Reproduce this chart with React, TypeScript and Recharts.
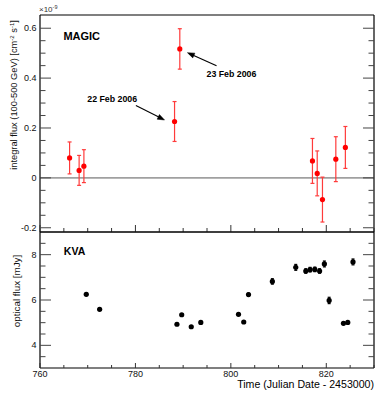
import React from 'react';
import {
  ScatterChart,
  Scatter,
  XAxis,
  YAxis,
  ErrorBar,
  ReferenceLine,
  ReferenceDot,
  Label,
} from 'recharts';

// MAGIC integral flux (x1e-9 cm^-2 s^-1), 100-500 GeV
const magicTime = [766.2, 768.2, 769.2, 788.2, 789.3, 817.1, 818.1, 819.2, 822.0, 824.0];
const magicFlux = [0.08, 0.03, 0.047, 0.226, 0.517, 0.068, 0.018, -0.087, 0.075, 0.122];
const magicErr = [0.064, 0.06, 0.066, 0.08, 0.081, 0.09, 0.09, 0.09, 0.09, 0.084];

// KVA optical flux (mJy)
const kvaTime = [
  769.7, 772.5, 788.7, 789.7, 791.7, 793.7, 801.6, 802.7, 803.7, 808.7, 813.6, 815.7, 816.6,
  817.6, 818.6, 819.6, 820.6, 823.6, 824.5, 825.6,
];
const kvaFlux = [
  6.25, 5.59, 4.93, 5.35, 4.82, 5.01, 5.37, 5.03, 6.24, 6.82, 7.44, 7.28, 7.34, 7.35, 7.28, 7.59,
  5.98, 4.97, 5.01, 7.68,
];
const kvaErr = [
  0.05, 0.05, 0.05, 0.05, 0.05, 0.05, 0.05, 0.05, 0.06, 0.12, 0.13, 0.1, 0.1, 0.1, 0.1, 0.13, 0.14,
  0.05, 0.05, 0.13,
];

const timeTicks = [760, 765, 770, 775, 780, 785, 790, 795, 800, 805, 810, 815, 820, 825, 830];
const timeLabels = [760, 780, 800, 820];
const magicTicks = [
  -0.2, -0.15, -0.1, -0.05, 0, 0.05, 0.1, 0.15, 0.2, 0.25, 0.3, 0.35, 0.4, 0.45, 0.5, 0.55, 0.6,
];
const magicLabels = [-0.2, 0, 0.2, 0.4, 0.6];
const kvaTicks = [3.5, 4, 4.5, 5, 5.5, 6, 6.5, 7, 7.5, 8, 8.5];
const kvaLabels = [4, 6, 8];

const magicData = magicTime.map((t, i) => ({ t, flux: magicFlux[i], err: magicErr[i] }));
const kvaData = kvaTime.map((t, i) => ({ t, flux: kvaFlux[i], err: kvaErr[i] }));

const FONT = '"Liberation Sans", Arial, Helvetica, sans-serif';
const W = 382;
const H = 393;

function xTick(dir: number, labels: boolean, big = 7, small = 4) {
  return (props: any) => {
    const { x, y, payload } = props;
    const major = timeLabels.includes(payload.value);
    return (
      <g>
        <line x1={x} x2={x} y1={y} y2={y + dir * (major ? big : small)} stroke="#333" />
        {labels && major && (
          <text x={x} y={y + 6} dy="0.35em" textAnchor="middle" fontSize={9} fontFamily={FONT} fill="#111">
            {payload.value}
          </text>
        )}
      </g>
    );
  };
}

function yTick(dir: number, majors: number[], labels: boolean) {
  return (props: any) => {
    const { x, y, payload } = props;
    const major = majors.some((m) => Math.abs(m - payload.value) < 1e-6);
    return (
      <g>
        <line x1={x} x2={x + dir * (major ? 11 : 5.5)} y1={y} y2={y} stroke="#444" />
        {labels && major && (
          <text x={x - 3.5} y={y} dy="0.35em" textAnchor="end" fontSize={9} fontFamily={FONT} fill="#111">
            {payload.value}
          </text>
        )}
      </g>
    );
  };
}

const RedDot = (p: any) => <circle cx={p.cx} cy={p.cy} r={2.6} fill="#ff0000" />;
const BlackDot = (p: any) => <circle cx={p.cx} cy={p.cy} r={2.6} fill="#000" />;

const Arrow = (p: any) => {
  const { x1, y1, x2, y2 } = p;
  const a = Math.atan2(y2 - y1, x2 - x1);
  const L = 7;
  const hw = 2.6;
  const bx = x2 - L * Math.cos(a);
  const by = y2 - L * Math.sin(a);
  const nx = -Math.sin(a) * hw;
  const ny = Math.cos(a) * hw;
  return (
    <g>
      <line x1={x1} y1={y1} x2={x2 - 2 * Math.cos(a)} y2={y2 - 2 * Math.sin(a)} stroke="#000" strokeWidth={1.1} />
      <polygon
        points={`${x2},${y2} ${bx + nx},${by + ny} ${bx - nx},${by - ny}`}
        fill="#000"
        stroke="#000"
        strokeWidth={0.5}
      />
    </g>
  );
};

const textShape = (label: string, size: number) => (p: any) => (
  <text x={p.cx} y={p.cy} dy="0.35em" fontSize={size} fontWeight="bold" fontFamily={FONT} fill="#000">
    {label}
  </text>
);

const UpperYTitle = (props: any) => {
  const vb = props.viewBox || { x: 39, y: 15, width: 1 };
  const left = vb.x + (vb.width || 0);
  const cx = left - 26;
  const cy = vb.y + 80;
  return (
    <g>
      <text
        x={cx}
        y={cy}
        dy="0.35em"
        textAnchor="middle"
        fontSize={9.3}
        fontFamily={FONT}
        fill="#111"
        transform={`rotate(-90, ${cx}, ${cy})`}
      >
        integral flux (100-500 GeV) [cm
        <tspan dy={-3.5} fontSize={6}>-2</tspan>
        <tspan dy={3.5}> s</tspan>
        <tspan dy={-3.5} fontSize={6}>-1</tspan>
        <tspan dy={3.5}>]</tspan>
      </text>
      <text x={left - 1} y={vb.y - 3} fontSize={8} fontFamily={FONT} fill="#333">
        ×10
        <tspan dy={-3} fontSize={5.5}>-9</tspan>
      </text>
    </g>
  );
};

const LowerYTitle = (props: any) => {
  const vb = props.viewBox || { x: 39, y: 232, width: 1 };
  const left = vb.x + (vb.width || 0);
  const cx = left - 23;
  const cy = vb.y + 59;
  return (
    <text
      x={cx}
      y={cy}
      dy="0.35em"
      textAnchor="middle"
      fontSize={9.8}
      fontFamily={FONT}
      fill="#111"
      transform={`rotate(-90, ${cx}, ${cy})`}
    >
      optical flux [mJy]
    </text>
  );
};

const XTitle = (props: any) => {
  const vb = props.viewBox || { x: 40, y: 368, width: 334 };
  return (
    <text x={vb.x + vb.width} y={vb.y + 20} textAnchor="end" fontSize={10.6} fontFamily={FONT} fill="#000">
      Time (Julian Date - 2453000)
    </text>
  );
};

const axisLine = { stroke: '#000', strokeWidth: 1.2 };

const commonX = {
  type: 'number' as const,
  domain: [760, 830],
  ticks: timeTicks,
  interval: 0 as const,
  height: 1,
  tickSize: 0,
  tickMargin: 0,
  tickLine: false,
  axisLine,
  allowDataOverflow: true,
};

const commonY = {
  type: 'number' as const,
  interval: 0 as const,
  width: 1,
  tickSize: 0,
  tickMargin: 0,
  tickLine: false,
  axisLine,
  allowDataOverflow: true,
};

export default function App() {
  return (
    <div style={{ position: 'absolute', left: 0, top: 0, width: W, height: H, background: '#fff' }}>
      <div style={{ position: 'absolute', left: 0, top: 0 }}>
        <ScatterChart width={W} height={H} margin={{ top: 14, right: 7, bottom: 160, left: 39 }}>
          <XAxis xAxisId={0} dataKey="t" {...commonX} tick={xTick(-1, false)} />
          <XAxis xAxisId="top" orientation="top" {...commonX} tick={xTick(1, false)} />
          <YAxis
            yAxisId={0}
            dataKey="flux"
            {...commonY}
            domain={[-0.217, 0.653]}
            ticks={magicTicks}
            tick={yTick(1, magicLabels, true)}
          >
            <Label content={UpperYTitle} />
          </YAxis>
          <YAxis
            yAxisId="right"
            orientation="right"
            {...commonY}
            domain={[-0.217, 0.653]}
            ticks={magicTicks}
            tick={yTick(-1, magicLabels, false)}
          />
          <ReferenceLine y={0} stroke="#a0a0a0" strokeWidth={1.6} />
          <Scatter data={magicData} shape={RedDot} isAnimationActive={false}>
            <ErrorBar dataKey="err" direction="y" width={2} stroke="#ff3b3b" strokeWidth={1.2} />
          </Scatter>
          <ReferenceDot x={764.9} y={0.569} r={0} ifOverflow="visible" shape={textShape('MAGIC', 11)} />
          <ReferenceDot x={769.9} y={0.315} r={0} ifOverflow="visible" shape={textShape('22 Feb 2006', 8.8)} />
          <ReferenceDot x={794.9} y={0.415} r={0} ifOverflow="visible" shape={textShape('23 Feb 2006', 8.8)} />
          <ReferenceLine
            segment={[
              { x: 780.1, y: 0.29 },
              { x: 786.1, y: 0.232 },
            ]}
            ifOverflow="visible"
            shape={Arrow}
          />
          <ReferenceLine
            segment={[
              { x: 797.0, y: 0.45 },
              { x: 790.9, y: 0.502 },
            ]}
            ifOverflow="visible"
            shape={Arrow}
          />
        </ScatterChart>
      </div>
      <div style={{ position: 'absolute', left: 0, top: 0 }}>
        <ScatterChart width={W} height={H} margin={{ top: 231, right: 7, bottom: 24, left: 39 }}>
          <XAxis xAxisId={0} dataKey="t" {...commonX} tick={xTick(-1, true, 5, 3)}>
            <Label content={XTitle} />
          </XAxis>
          <XAxis xAxisId="top" orientation="top" {...commonX} tick={xTick(1, false, 3, 2)} />
          <YAxis
            yAxisId={0}
            dataKey="flux"
            {...commonY}
            domain={[3, 9]}
            ticks={kvaTicks}
            tick={yTick(1, kvaLabels, true)}
          >
            <Label content={LowerYTitle} />
          </YAxis>
          <YAxis
            yAxisId="right"
            orientation="right"
            {...commonY}
            domain={[3, 9]}
            ticks={kvaTicks}
            tick={yTick(-1, kvaLabels, false)}
          />
          <Scatter data={kvaData} shape={BlackDot} isAnimationActive={false}>
            <ErrorBar dataKey="err" direction="y" width={1.5} stroke="#000" strokeWidth={1.2} />
          </Scatter>
          <ReferenceDot x={765.0} y={8.16} r={0} ifOverflow="visible" shape={textShape('KVA', 10.5)} />
        </ScatterChart>
      </div>
    </div>
  );
}
